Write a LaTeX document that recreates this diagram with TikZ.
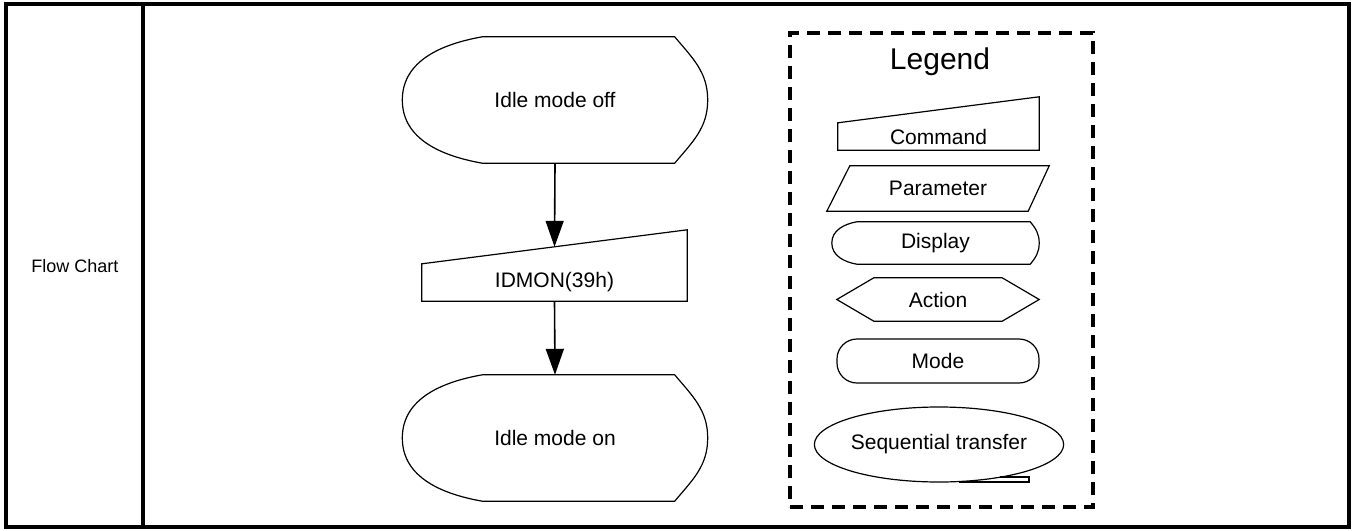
\documentclass[tikz,border=0pt]{standalone}
\usepackage{fontspec}
\setmainfont{Liberation Sans}
\usetikzlibrary{arrows.meta,positioning,shapes.geometric}

% outline of a display shape round a node: #2 left inset, #3 right inset
\newcommand{\dispoutline}[3]{%
  \draw[outl] ([xshift=#2]#1.north west) -- ([xshift=-#3]#1.north east)
    to[out=-50,in=90] (#1.east) to[out=-90,in=50] ([xshift=-#3]#1.south east)
    -- ([xshift=#2]#1.south west) to[out=170,in=-90] (#1.west)
    to[out=90,in=190] ([xshift=#2]#1.north west);}

\begin{document}
\begin{tikzpicture}[x=1pt,y=1pt,>={Triangle[length=26pt,width=18pt]},
  outl/.style={line width=1.2pt},
  box/.style={inner sep=0pt,font=\fontsize{21}{25}\selectfont},
  flow/.style={->,line width=1.6pt}]
\useasboundingbox (0,0) rectangle (1356,-530);
% table frame
\draw[line width=4pt] (6,-4) rectangle (1349,-527);
\draw[line width=4pt] (143,-4) -- (143,-527);
\node[font=\fontsize{18}{22}\selectfont] (lbl) at (75,-266) {Flow Chart};

% flow chart
\node[box,minimum width=305,minimum height=126] (off) at (555,-100) {Idle mode off};
\node[box,minimum width=265,minimum height=37] (idmon) at (554.5,-282.5) {IDMON(39h)};
\node[box,minimum width=305,minimum height=126] (on) at (555,-438) {Idle mode on};
\coordinate (idtop) at ([yshift=17]idmon.north);
\dispoutline{off}{80}{33}
\dispoutline{on}{80}{33}
\draw[outl] (idmon.south west) -- (idmon.north west) -- ([yshift=34]idmon.north east) -- (idmon.south east) -- cycle;
\draw[flow] (off.south) -- (idtop);
\draw[flow] (idmon.south) -- (on.north);

% legend
\node[draw,line width=4pt,dash pattern=on 13pt off 8pt,minimum width=303,minimum height=474] (legbox) at (941.5,-270) {};
\node[font=\fontsize{30}{36}\selectfont] (legend) at (940,-62) {Legend};
\node[box,minimum width=201,minimum height=27] (cmd) at (938.5,-136.5) {Command};
\draw[outl] (cmd.south west) -- (cmd.north west) -- ([yshift=26]cmd.north east) -- (cmd.south east) -- cycle;
\node[box,minimum width=222,minimum height=45] (par) at (938,-188.5) {Parameter};
\draw[outl] ([xshift=23]par.north west) -- (par.north east) -- ([xshift=-21]par.south east) -- (par.south west) -- cycle;
\node[box,minimum width=207,minimum height=42] (disp) at (935.5,-243) {Display};
\dispoutline{disp}{25}{9}
\node[box,minimum width=202,minimum height=43] (act) at (938,-299.5) {Action};
\draw[outl] (act.west) -- ([xshift=37]act.north west) -- ([xshift=-37]act.north east) -- (act.east)
  -- ([xshift=-37]act.south east) -- ([xshift=37]act.south west) -- cycle;
\node[box,draw,outl,rounded corners=20pt,minimum width=202,minimum height=44] (mode) at (938,-361) {Mode};
\node[box,draw,outl,ellipse,minimum width=236,minimum height=75] (seq) at (939,-444.5) {Sequential transfer};
\draw[outl] ([shift={(20,-37.5)}]seq.center) -- ++(70,0) -- ++(0,5) -- ++(-29,0);
\end{tikzpicture}
\end{document}
